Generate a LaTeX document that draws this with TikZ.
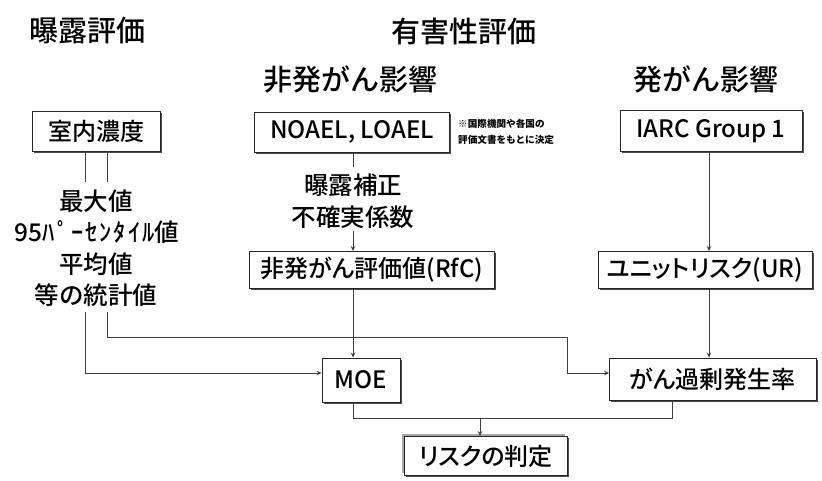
\documentclass[tikz,border=0pt]{standalone}
\usepackage{fontspec}
\setmainfont{Noto Sans CJK JP}
\IfFontExistsTF{Noto Sans CJK JP Medium}{%
  \newfontfamily\medjp{Noto Sans CJK JP Medium}%
  \newfontfamily\propjp[CharacterWidth=AlternateProportional]{Noto Sans CJK JP Medium}%
}{%
  \newfontfamily\medjp{Noto Sans CJK JP}%
  \newfontfamily\propjp[CharacterWidth=AlternateProportional]{Noto Sans CJK JP}%
}
\usetikzlibrary{arrows.meta,shadows}
\tikzset{
  box/.style={draw=black!85, line width=0.9pt, fill=white, inner sep=0pt,
    drop shadow={shadow xshift=1.6pt, shadow yshift=-1.6pt, fill=black!70, opacity=1}},
  riskbox/.style={draw=black!85, line width=0.9pt, fill=white, inner sep=0pt,
    general shadow={shadow xshift=-3pt, shadow yshift=3pt, fill=black!35, opacity=1},
    drop shadow={shadow xshift=1.6pt, shadow yshift=-1.6pt, fill=black!70, opacity=1}},
  conn/.style={draw=black!75, line width=0.8pt},
  arr/.style={conn, -{Stealth[length=5pt,width=4.5pt]}},
  head/.style={font=\medjp\fontsize{29pt}{32pt}\selectfont, inner sep=0pt},
  btxt/.style={font=\propjp\fontsize{24pt}{26pt}\selectfont},
  stat/.style={font=\medjp\fontsize{24.5pt}{26pt}\selectfont, inner sep=0pt},
  note/.style={font=\fontsize{9.6pt}{16.5pt}\selectfont\bfseries, align=left, inner sep=0pt, anchor=west}
}
\begin{document}
\begin{tikzpicture}[x=1pt,y=-1pt]
\useasboundingbox (0,0) rectangle (822,481);
\fill[white] (0,0) rectangle (822,481);
% headers
\node[head] (h1) at (87,31) {曝露評価};
\node[head] (h2) at (464,31) {有害性評価};
\node[head] (h3) at (350,79) {非発がん影響};
\node[head] (h4) at (706,79) {発がん影響};
% boxes
\node[box, btxt, minimum width=128pt, minimum height=40pt] (room) at (96,131) {室内濃度};
\node[box, btxt, minimum width=195pt, minimum height=40pt] (noael) at (352,132) {NOAEL, LOAEL};
\node[note] (nt) at (458,132) {※国際機関や各国の\\評価文書をもとに決定};
\node[box, btxt, minimum width=182pt, minimum height=41pt] (iarc) at (711,131) {IARC Group 1};
\node[box, btxt, minimum width=245pt, minimum height=37pt] (rfc) at (372,270) {非発がん評価値(RfC)};
\node[box, btxt, minimum width=214pt, minimum height=37pt] (ur) at (705,270) {ユニットリスク(UR)};
\node[box, btxt, minimum width=78pt, minimum height=44pt] (moe) at (361,380) {MOE};
\node[box, btxt, minimum width=207pt, minimum height=42pt] (exc) at (713,379) {がん過剰発生率};
\node[riskbox, btxt, minimum width=163pt, minimum height=39pt] (risk) at (486,456) {リスクの判定};
% statistics text
\node[stat] (st1) at (96,201) {最大値};
\node[stat] (st2) at (97,232) {95{\addfontfeatures{LetterSpace=8}ﾊﾟｰｾﾝﾀｲﾙ}値};
\node[stat] (st3) at (96,264) {平均値};
\node[stat] (st4) at (96,295) {等の統計値};
\node[stat] (ex1) at (353,185) {曝露補正};
\node[stat] (ex2) at (353,217) {不確実係数};
% coordinates
\coordinate (r1) at (85,182);
\coordinate (r2) at (107,182);
\coordinate (s1) at (85,312);
\coordinate (s2) at (107,312);
\coordinate (m1) at (85,373);
\coordinate (k1) at (567,337);
\coordinate (k2) at (567,373);
\coordinate (n1) at (353,167);
\coordinate (n2) at (353,231);
\coordinate (c1) at (709,300);
\coordinate (c2) at (672,418);
\coordinate (j) at (480,418);
% connectors
\draw[conn] (room.south -| r1) -- (r1);
\draw[conn] (room.south -| r2) -- (r2);
\draw[arr] (s1) -- (m1) -- (m1 -| moe.west);
\draw[arr] (s2) |- (k1) -- (k2) -- (k2 -| exc.west);
\draw[conn] (noael.south -| n1) -- (n1);
\draw[arr] (n2) -- (n2 |- rfc.north);
\draw[arr] (rfc.south -| n2) -- (moe.north -| n2);
\draw[arr] (iarc.south -| c1) -- (ur.north -| c1);
\draw[arr] (ur.south -| c1) -- (exc.north -| c1);
\draw[conn] (moe.south -| n2) |- (c2) -- (exc.south -| c2);
\draw[arr] (j) -- (risk.north -| j);
\end{tikzpicture}
\end{document}
